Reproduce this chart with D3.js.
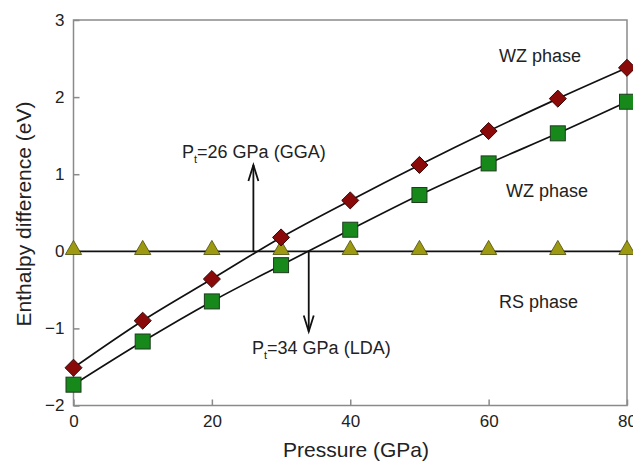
<!DOCTYPE html>
<html><head><meta charset="utf-8">
<script src="https://cdn.jsdelivr.net/npm/d3@7"></script>
<style>body{margin:0;background:#fff}text{font-family:"Liberation Sans",Arial,sans-serif}</style>
</head><body><svg id="c" width="633" height="461"></svg>
<script>
const pressure = [0,10,20,30,40,50,60,70,80];
const ggaValues = [-1.51,-0.90,-0.36,0.18,0.66,1.12,1.56,1.98,2.38];
const ldaValues = [-1.73,-1.17,-0.65,-0.18,0.28,0.73,1.14,1.53,1.94];
const rsValues = [0,0,0,0,0,0,0,0,0];
const xTicks = [0,20,40,60,80];
const yTicks = [-2,-1,0,1,2,3];
const transitions = [{p:26, dir:1, to:1.12, label:"26 GPa (GGA)"},{p:34, dir:-1, to:-1.04, label:"34 GPa (LDA)"}];
const phaseLabels = [{p:61.5, v:2.46, t:"WZ phase"},{p:62.5, v:0.71, t:"WZ phase"},{p:61.5, v:-0.74, t:"RS phase"}];

const svg = d3.select("#c");
const L=73.5, R=627, T=20, B=405.5;
const x = d3.scaleLinear().domain([0,80]).range([L,R]);
const y = d3.scaleLinear().domain([-2,3]).range([B,T]);
const gray="#8a8a8a";

svg.append("rect").attr("x",L).attr("y",T).attr("width",R-L).attr("height",B-T)
  .attr("fill","none").attr("stroke",gray).attr("stroke-width",1.5);
const ax = svg.append("g").attr("transform",`translate(0,${B})`)
  .call(d3.axisBottom(x).tickValues(xTicks).tickSize(-6).tickPadding(9).tickFormat(d3.format("d")));
const ay = svg.append("g").attr("transform",`translate(${L},0)`)
  .call(d3.axisLeft(y).tickValues(yTicks).tickSize(-6).tickPadding(9).tickFormat(d3.format("d")));
[ax,ay].forEach(g=>{g.select(".domain").remove();
  g.selectAll(".tick line").attr("stroke",gray).attr("stroke-width",1.5);
  g.selectAll("text").attr("font-size",17).attr("fill","#222");});

svg.append("text").attr("x",356).attr("y",457).attr("text-anchor","middle")
  .attr("font-size",21).attr("fill","#222").text("Pressure (GPa)");
svg.append("text").attr("transform",`translate(31,${214}) rotate(-90)`).attr("text-anchor","middle")
  .attr("font-size",21).attr("fill","#222").text("Enthalpy difference (eV)");

const line = d3.line().x((d,i)=>x(pressure[i])).y(d=>y(d)).curve(d3.curveCatmullRom);
[rsValues, ggaValues, ldaValues].forEach(v=>{
  svg.append("path").attr("d",line(v)).attr("fill","none").attr("stroke","#111").attr("stroke-width",1.7);
});

transitions.forEach(t=>{
  const x0=x(t.p), y0=y(0), y1=y(t.to);
  svg.append("line").attr("x1",x0).attr("x2",x0).attr("y1",y0).attr("y2",y1).attr("stroke","#111").attr("stroke-width",1.8);
  const h=16*t.dir;
  svg.append("path").attr("d",`M${x0-5},${y1+h} L${x0},${y1} L${x0+5},${y1+h}`)
    .attr("fill","none").attr("stroke","#111").attr("stroke-width",1.8);
  const ty = t.dir>0 ? 158 : 354;
  const tx = t.dir>0 ? 182 : 252;
  const txt = svg.append("text").attr("x",tx).attr("y",ty).attr("font-size",18).attr("fill","#222");
  txt.append("tspan").text("P");
  txt.append("tspan").attr("font-size",11).attr("dy",5).text("t");
  txt.append("tspan").attr("dy",-5).text("=" + t.label);
});

phaseLabels.forEach(p=>{
  svg.append("text").attr("x",x(p.p)).attr("y",y(p.v)).attr("font-size",18).attr("fill","#222").text(p.t);
});

const tri = d3.symbol().type(d3.symbolTriangle).size(115);
svg.append("g").selectAll("path").data(rsValues).join("path")
  .attr("d",tri).attr("transform",(d,i)=>`translate(${x(pressure[i])},${y(d)-1.5})`)
  .attr("fill","#9d9a12").attr("stroke","#4a4a08").attr("stroke-width",0.8);
const sq = 15;
svg.append("g").selectAll("rect").data(ldaValues).join("rect")
  .attr("x",(d,i)=>x(pressure[i])-sq/2).attr("y",d=>y(d)-sq/2).attr("width",sq).attr("height",sq)
  .attr("fill","#17891a").attr("stroke","#1e3a1e").attr("stroke-width",1);
const dm = d3.symbol().type(d3.symbolDiamond2).size(185);
svg.append("g").selectAll("path").data(ggaValues).join("path")
  .attr("d",dm).attr("transform",(d,i)=>`translate(${x(pressure[i])},${y(d)})`)
  .attr("fill","#8a0a0a").attr("stroke","#3a0505").attr("stroke-width",1);
</script></body></html>
